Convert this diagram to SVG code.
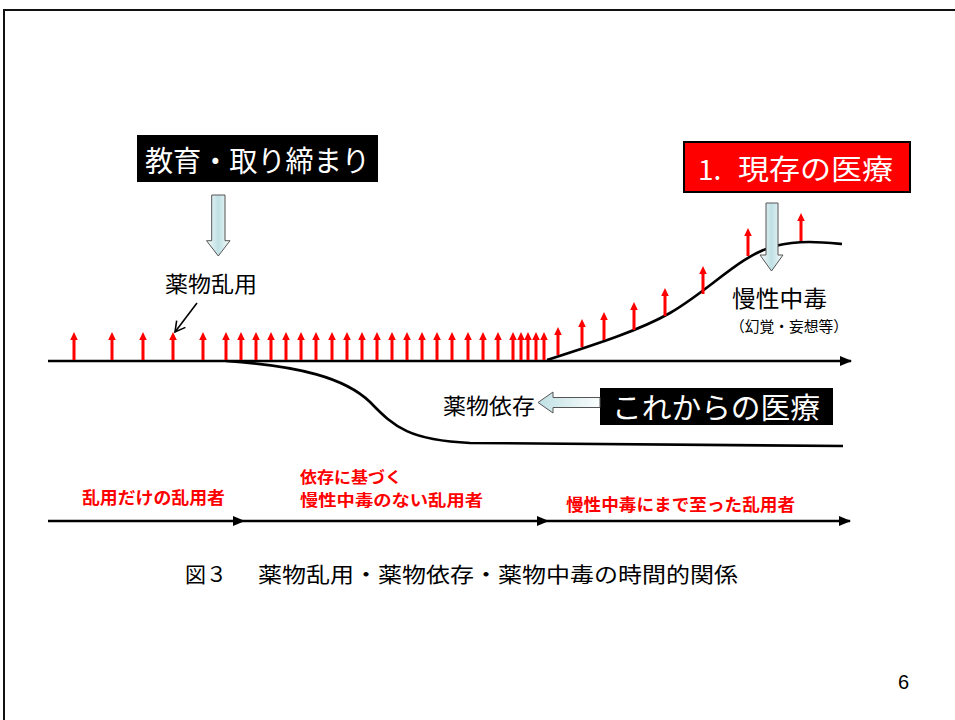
<svg xmlns="http://www.w3.org/2000/svg" xmlns:xlink="http://www.w3.org/1999/xlink" width="955" height="720" viewBox="0 0 955 720">
<style>
.jp{font-family:"Noto Sans CJK JP","Noto Sans CJK SC",sans-serif;}
.blk{fill:#000;}
.wht{fill:#fff;}
.redb{fill:#ff0000;font-weight:bold;}
.ln{fill:none;stroke:#000;stroke-width:2.6;}
.blockarrow{stroke:#555;stroke-width:1;}
</style>
<defs>
<linearGradient id="gv" x1="0" y1="0" x2="1" y2="0">
<stop offset="0" stop-color="#f7fbfc"/>
<stop offset="0.5" stop-color="#bfe0e4"/>
<stop offset="1" stop-color="#f7fbfc"/>
</linearGradient>
<linearGradient id="gh" x1="0" y1="0" x2="1" y2="0">
<stop offset="0" stop-color="#bfe0e4"/>
<stop offset="1" stop-color="#fbfdfd"/>
</linearGradient>
<path id="ra" d="M-1.5,0 V-20 H-3.8 L0,-28 L3.8,-20 H1.5 V0 Z" fill="#ff0000"/>
<marker id="ah" markerWidth="12" markerHeight="10" refX="11" refY="5" orient="auto" markerUnits="userSpaceOnUse">
<path d="M0,0 L12,5 L0,10 Z" fill="#000"/>
</marker>
<marker id="sm" markerWidth="14" markerHeight="14" refX="12" refY="7" orient="auto" markerUnits="userSpaceOnUse">
<path d="M2,1.5 L12,7 L2,12.5" fill="none" stroke="#000" stroke-width="1.6"/>
</marker>
</defs>
<rect x="0" y="0" width="955" height="720" fill="#fff"/>
<rect id="frame" x="4" y="10" width="1000" height="760" fill="none" stroke="#111" stroke-width="2"/>

<g id="connectors">
<line x1="48" y1="361" x2="851" y2="361" class="ln" stroke-width="3" marker-end="url(#ah)"/>
<path d="M226,361 C300,366 345,378 370,402 C395,428 410,440 470,443 L843,446" class="ln"/>
<path d="M547,360 C600,343 640,330 670,313 C710,290 740,255 775,246 C800,240 820,242 842,244" class="ln"/>
<line x1="197" y1="303" x2="175" y2="332" stroke="#000" stroke-width="1.6" marker-end="url(#sm)"/>
<line x1="48" y1="521" x2="244" y2="521" stroke="#000" stroke-width="2.4" marker-end="url(#ah)"/>
<line x1="244" y1="521" x2="548" y2="521" stroke="#000" stroke-width="2.4" marker-end="url(#ah)"/>
<line x1="548" y1="521" x2="850" y2="521" stroke="#000" stroke-width="2.4" marker-end="url(#ah)"/>
</g>

<g id="red-arrows">
<use xlink:href="#ra" transform="translate(74,360)"/>
<use xlink:href="#ra" transform="translate(112,360)"/>
<use xlink:href="#ra" transform="translate(143,360)"/>
<use xlink:href="#ra" transform="translate(173,360)"/>
<use xlink:href="#ra" transform="translate(203,360)"/>
<use xlink:href="#ra" transform="translate(226,360)"/>
<use xlink:href="#ra" transform="translate(241,360)"/>
<use xlink:href="#ra" transform="translate(256,360)"/>
<use xlink:href="#ra" transform="translate(271,360)"/>
<use xlink:href="#ra" transform="translate(286,360)"/>
<use xlink:href="#ra" transform="translate(301,360)"/>
<use xlink:href="#ra" transform="translate(316,360)"/>
<use xlink:href="#ra" transform="translate(332,360)"/>
<use xlink:href="#ra" transform="translate(347,360)"/>
<use xlink:href="#ra" transform="translate(362,360)"/>
<use xlink:href="#ra" transform="translate(377,360)"/>
<use xlink:href="#ra" transform="translate(392,360)"/>
<use xlink:href="#ra" transform="translate(407,360)"/>
<use xlink:href="#ra" transform="translate(422,360)"/>
<use xlink:href="#ra" transform="translate(437,360)"/>
<use xlink:href="#ra" transform="translate(452,360)"/>
<use xlink:href="#ra" transform="translate(468,360)"/>
<use xlink:href="#ra" transform="translate(483,360)"/>
<use xlink:href="#ra" transform="translate(498,360)"/>
<use xlink:href="#ra" transform="translate(513,360)"/>
<use xlink:href="#ra" transform="translate(521,360)"/>
<use xlink:href="#ra" transform="translate(528,360)"/>
<use xlink:href="#ra" transform="translate(536,360)"/>
<use xlink:href="#ra" transform="translate(544,360)"/>
<use xlink:href="#ra" transform="translate(558,355)"/>
<use xlink:href="#ra" transform="translate(582,347)"/>
<use xlink:href="#ra" transform="translate(604,340)"/>
<use xlink:href="#ra" transform="translate(634,330)"/>
<use xlink:href="#ra" transform="translate(665,316)"/>
<use xlink:href="#ra" transform="translate(703,294)"/>
<use xlink:href="#ra" transform="translate(748,256)"/>
<use xlink:href="#ra" transform="translate(801,241)"/>
</g>

<g id="education">
<rect x="137" y="135" width="241" height="47" fill="#000"/>
<text x="145" y="172" class="jp wht" font-size="29" textLength="225" lengthAdjust="spacingAndGlyphs">教育・取り締まり</text>
</g>
<g id="education-arrow">
<path d="M211.7,195 H225 V240.7 H230 L218.3,256 L206.5,240.7 H211.7 Z" fill="url(#gv)" class="blockarrow"/>
</g>

<g id="abuse-label">
<text x="165" y="292" class="jp blk" font-size="22" textLength="92" lengthAdjust="spacingAndGlyphs">薬物乱用</text>
</g>

<g id="current-care">
<rect x="684" y="142" width="226" height="50" fill="#ff0000" stroke="#000" stroke-width="2"/>
<text x="698" y="180" class="jp wht" font-size="28">1.</text>
<text x="738" y="180" class="jp wht" font-size="28" textLength="155" lengthAdjust="spacingAndGlyphs">現存の医療</text>
</g>
<g id="current-care-arrow">
<path d="M766,203 H778 V255 H783 L771.5,271 L760,255 H766 Z" fill="url(#gv)" class="blockarrow"/>
</g>

<g id="chronic">
<text x="732" y="307" class="jp blk" font-size="23" textLength="95" lengthAdjust="spacingAndGlyphs">慢性中毒</text>
<text x="730" y="332" class="jp blk" font-size="15" textLength="118" lengthAdjust="spacingAndGlyphs">（幻覚・妄想等）</text>
</g>

<g id="future-care">
<rect x="600" y="388" width="233" height="37" fill="#000"/>
<text x="612" y="419" class="jp wht" font-size="29" textLength="208" lengthAdjust="spacingAndGlyphs">これからの医療</text>
</g>
<g id="future-care-arrow">
<path d="M600,397.5 V407.5 H553 V413 L538,402.5 L553,392 V397.5 Z" fill="url(#gh)" class="blockarrow"/>
</g>

<g id="dependence-label">
<text x="443" y="414" class="jp blk" font-size="22" textLength="92" lengthAdjust="spacingAndGlyphs">薬物依存</text>
</g>

<g id="stage-labels">
<text x="82" y="504" class="jp redb" font-size="17" textLength="143" lengthAdjust="spacingAndGlyphs">乱用だけの乱用者</text>
<text x="300" y="483" class="jp redb" font-size="15.5" textLength="102" lengthAdjust="spacingAndGlyphs">依存に基づく</text>
<text x="300" y="506" class="jp redb" font-size="15.5" textLength="183" lengthAdjust="spacingAndGlyphs">慢性中毒のない乱用者</text>
<text x="566" y="511" class="jp redb" font-size="17" textLength="229" lengthAdjust="spacingAndGlyphs">慢性中毒にまで至った乱用者</text>
</g>

<g id="caption">
<text x="185" y="582" class="jp blk" font-size="21">図３</text>
<text x="258" y="582" class="jp blk" font-size="21" textLength="480" lengthAdjust="spacingAndGlyphs">薬物乱用・薬物依存・薬物中毒の時間的関係</text>
</g>

<g id="page-number">
<text x="898" y="689" font-family="Liberation Sans, Arial, sans-serif" font-size="20" fill="#000">6</text>
</g>
</svg>
